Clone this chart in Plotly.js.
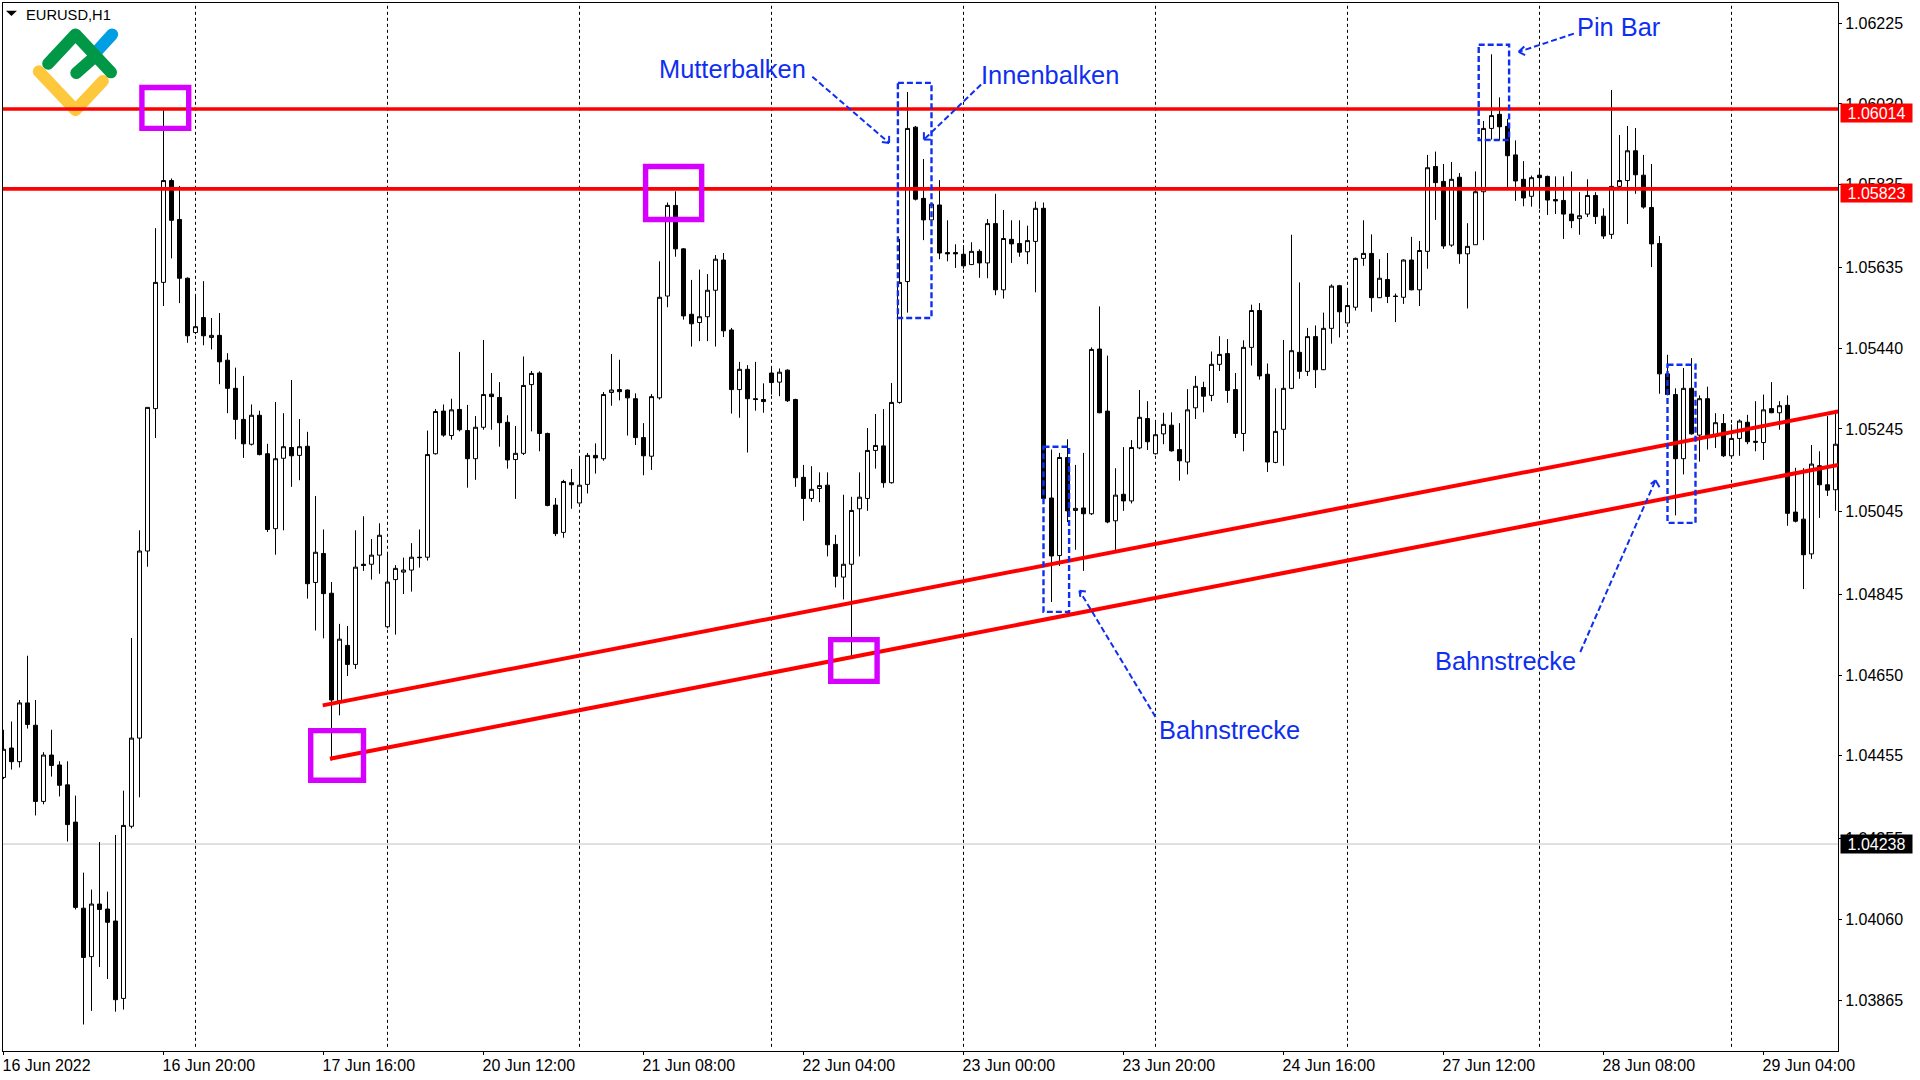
<!DOCTYPE html>
<html><head><meta charset="utf-8">
<script src="https://cdn.plot.ly/plotly-3.0.1.min.js"></script>
<style>html,body{margin:0;padding:0;background:#fff}#c{width:1920px;height:1080px}</style>
</head><body><div id="c"></div>
<script>
const opens=[
1.04403,1.04474,1.04441,1.04583,1.04529,1.04345,1.04457,1.04433,1.04385,1.04295,
1.04087,1.03970,1.04097,1.04085,1.04056,1.03869,1.04285,1.04498,1.04950,1.05294,
1.05599,1.05845,1.05751,1.05609,1.05478,1.05514,1.05466,1.05471,1.05411,1.05343,
1.05268,1.05208,1.05278,1.05185,1.05004,1.05174,1.05200,1.05181,1.05203,1.04874,
1.04944,1.04848,1.04588,1.04722,1.04676,1.04918,1.04918,1.04940,1.04767,1.04881,
1.04899,1.04904,1.04935,1.04935,1.05185,1.05288,1.05229,1.05292,1.05241,1.05173,
1.05249,1.05329,1.05321,1.05261,1.05171,1.05186,1.05352,1.05380,1.05234,1.05061,
1.04995,1.05115,1.05066,1.05111,1.05181,1.05173,1.05333,1.05340,1.05339,1.05318,
1.05224,1.05179,1.05320,1.05566,1.05785,1.05680,1.05522,1.05502,1.05516,1.05580,
1.05653,1.05484,1.05340,1.05389,1.05318,1.05316,1.05380,1.05358,1.05387,1.05316,
1.05128,1.05077,1.05101,1.05109,1.04966,1.04887,1.04918,1.05052,1.05077,1.05193,
1.05204,1.05115,1.05309,1.05601,1.05974,1.05802,1.05750,1.05786,1.05671,1.05671,
1.05667,1.05642,1.05674,1.05646,1.05741,1.05581,1.05703,1.05693,1.05673,1.05698,
1.05778,1.05078,1.04939,1.05176,1.05048,1.05054,1.05040,1.05438,1.05288,1.05023,
1.05087,1.05071,1.05199,1.05270,1.05185,1.05233,1.05254,1.05195,1.05165,1.05296,
1.05345,1.05326,1.05401,1.05427,1.05340,1.05234,1.05442,1.05531,1.05377,1.05164,
1.05244,1.05343,1.05430,1.05384,1.05468,1.05388,1.05488,1.05591,1.05501,1.05539,
1.05657,1.05669,1.05562,1.05606,1.05566,1.05563,1.05653,1.05581,1.05674,1.05879,
1.05843,1.05689,1.05853,1.05668,1.05690,1.05818,1.05971,1.06005,1.05976,1.05907,
1.05848,1.05807,1.05858,1.05855,1.05799,1.05797,1.05764,1.05753,1.05764,1.05809,
1.05759,1.05715,1.05831,1.05845,1.05917,1.05858,1.05780,1.05693,1.05378,1.05328,
1.05173,1.05343,1.05230,1.05318,1.05228,1.05258,1.05180,1.05222,1.05261,1.05215,
1.05212,1.05294,1.05284,1.05302,1.05044,1.05027,1.04943,1.05156,1.05110,1.05098];
const highs=[
1.04518,1.04538,1.04590,1.04697,1.04590,1.04464,1.04518,1.04442,1.04442,1.04359,
1.04173,1.04132,1.04247,1.04127,1.04264,1.04371,1.04740,1.05000,1.05297,1.05730,
1.06015,1.05850,1.05832,1.05611,1.05567,1.05602,1.05513,1.05525,1.05428,1.05393,
1.05373,1.05304,1.05289,1.05209,1.05310,1.05283,1.05363,1.05269,1.05238,1.05083,
1.05002,1.04875,1.04774,1.04769,1.05000,1.05034,1.04979,1.05017,1.04948,1.04916,
1.04934,1.04969,1.05002,1.05241,1.05293,1.05304,1.05318,1.05431,1.05303,1.05276,
1.05460,1.05380,1.05358,1.05278,1.05252,1.05420,1.05385,1.05384,1.05236,1.05078,
1.05122,1.05148,1.05176,1.05187,1.05210,1.05334,1.05426,1.05412,1.05340,1.05331,
1.05259,1.05329,1.05650,1.05792,1.05819,1.05682,1.05605,1.05630,1.05619,1.05665,
1.05670,1.05489,1.05407,1.05399,1.05407,1.05355,1.05394,1.05391,1.05389,1.05318,
1.05158,1.05155,1.05140,1.05140,1.04989,1.05086,1.05081,1.05140,1.05247,1.05281,
1.05293,1.05356,1.05704,1.06059,1.05977,1.05897,1.05790,1.05846,1.05749,1.05691,
1.05689,1.05696,1.05679,1.05752,1.05813,1.05774,1.05749,1.05749,1.05736,1.05794,
1.05792,1.05195,1.05187,1.05220,1.05158,1.05187,1.05442,1.05541,1.05422,1.05150,
1.05201,1.05218,1.05339,1.05312,1.05266,1.05284,1.05285,1.05259,1.05341,1.05373,
1.05359,1.05432,1.05469,1.05462,1.05380,1.05459,1.05545,1.05549,1.05403,1.05343,
1.05460,1.05714,1.05599,1.05489,1.05495,1.05526,1.05594,1.05593,1.05581,1.05659,
1.05749,1.05715,1.05655,1.05670,1.05572,1.05655,1.05709,1.05699,1.05907,1.05915,
1.05885,1.05890,1.05863,1.05742,1.05867,1.05989,1.06150,1.06046,1.05994,1.05942,
1.05892,1.05857,1.05873,1.05857,1.05855,1.05855,1.05867,1.05817,1.05848,1.05817,
1.05778,1.06064,1.05955,1.05977,1.05972,1.05907,1.05885,1.05711,1.05424,1.05343,
1.05392,1.05416,1.05326,1.05347,1.05283,1.05281,1.05256,1.05268,1.05279,1.05312,
1.05328,1.05358,1.05312,1.05326,1.05151,1.05150,1.05206,1.05191,1.05276,1.05291];
const lows=[
1.04399,1.04422,1.04427,1.04521,1.04311,1.04338,1.04405,1.04357,1.04248,1.04084,
1.03806,1.03839,1.03945,1.03916,1.03837,1.03842,1.04280,1.04355,1.04912,1.05223,
1.05542,1.05657,1.05549,1.05453,1.05474,1.05447,1.05437,1.05353,1.05283,1.05220,
1.05175,1.05205,1.05181,1.04996,1.04941,1.05000,1.05105,1.05121,1.04835,1.04758,
1.04739,1.04444,1.04553,1.04648,1.04665,1.04902,1.04881,1.04895,1.04763,1.04748,
1.04846,1.04852,1.04910,1.04927,1.05183,1.05226,1.05219,1.05239,1.05103,1.05122,
1.05243,1.05243,1.05202,1.05149,1.05076,1.05182,1.05239,1.05191,1.05058,1.04986,
1.04982,1.05052,1.05065,1.05089,1.05137,1.05168,1.05301,1.05314,1.05229,1.05206,
1.05133,1.05146,1.05316,1.05539,1.05661,1.05509,1.05444,1.05457,1.05457,1.05444,
1.05467,1.05282,1.05272,1.05188,1.05289,1.05284,1.05328,1.05324,1.05310,1.05105,
1.05023,1.05069,1.05068,1.04937,1.04862,1.04833,1.04695,1.04937,1.05047,1.05149,
1.05103,1.05113,1.05306,1.05526,1.05797,1.05701,1.05749,1.05655,1.05650,1.05634,
1.05632,1.05642,1.05610,1.05609,1.05568,1.05560,1.05646,1.05661,1.05643,1.05575,
1.05075,1.04827,1.04914,1.05020,1.04953,1.04902,1.05037,1.05283,1.05017,1.04952,
1.05047,1.05065,1.05196,1.05194,1.05183,1.05208,1.05190,1.05120,1.05135,1.05269,
1.05285,1.05312,1.05385,1.05308,1.05223,1.05191,1.05398,1.05364,1.05141,1.05162,
1.05156,1.05341,1.05366,1.05373,1.05344,1.05387,1.05451,1.05466,1.05500,1.05531,
1.05639,1.05528,1.05561,1.05549,1.05503,1.05547,1.05580,1.05542,1.05632,1.05750,
1.05680,1.05685,1.05644,1.05536,1.05690,1.05701,1.05944,1.05942,1.05829,1.05796,
1.05783,1.05782,1.05777,1.05762,1.05764,1.05704,1.05730,1.05714,1.05757,1.05740,
1.05704,1.05704,1.05828,1.05740,1.05813,1.05777,1.05636,1.05330,1.05326,1.05036,
1.05135,1.05231,1.05166,1.05195,1.05199,1.05177,1.05179,1.05180,1.05208,1.05191,
1.05170,1.05283,1.05243,1.05011,1.05019,1.04858,1.04931,1.05030,1.05083,1.05047];
const closes=[
1.04471,1.04441,1.04583,1.04531,1.04345,1.04457,1.04432,1.04384,1.04289,1.04089,
1.03968,1.04097,1.04084,1.04053,1.03866,1.04287,1.04498,1.04950,1.05297,1.05599,
1.05845,1.05749,1.05609,1.05470,1.05492,1.05470,1.05471,1.05407,1.05343,1.05268,
1.05209,1.05278,1.05183,1.05002,1.05173,1.05202,1.05180,1.05202,1.04871,1.04947,
1.04847,1.04590,1.04737,1.04676,1.04911,1.04915,1.04940,1.04988,1.04875,1.04908,
1.04904,1.04935,1.04934,1.05183,1.05287,1.05230,1.05291,1.05243,1.05173,1.05249,
1.05328,1.05323,1.05260,1.05170,1.05186,1.05350,1.05379,1.05234,1.05060,1.04992,
1.05118,1.05110,1.05109,1.05181,1.05175,1.05328,1.05339,1.05335,1.05320,1.05224,
1.05180,1.05323,1.05563,1.05785,1.05680,1.05518,1.05499,1.05516,1.05580,1.05655,
1.05482,1.05340,1.05389,1.05318,1.05316,1.05311,1.05357,1.05382,1.05313,1.05127,
1.05077,1.05099,1.05108,1.04965,1.04889,1.04918,1.05048,1.05080,1.05193,1.05205,
1.05115,1.05309,1.05599,1.05971,1.05800,1.05750,1.05788,1.05670,1.05668,1.05668,
1.05639,1.05674,1.05646,1.05741,1.05581,1.05705,1.05692,1.05672,1.05700,1.05778,
1.05077,1.04938,1.05176,1.05047,1.05053,1.05040,1.05437,1.05284,1.05020,1.05085,
1.05071,1.05200,1.05273,1.05214,1.05231,1.05256,1.05192,1.05168,1.05291,1.05348,
1.05324,1.05401,1.05425,1.05338,1.05234,1.05442,1.05531,1.05373,1.05165,1.05239,
1.05343,1.05434,1.05384,1.05468,1.05388,1.05488,1.05590,1.05528,1.05543,1.05657,
1.05669,1.05562,1.05609,1.05565,1.05565,1.05653,1.05581,1.05676,1.05876,1.05840,
1.05687,1.05848,1.05668,1.05686,1.05818,1.05971,1.06002,1.05975,1.05905,1.05844,
1.05803,1.05852,1.05852,1.05798,1.05796,1.05764,1.05748,1.05760,1.05809,1.05758,
1.05711,1.05831,1.05845,1.05917,1.05859,1.05781,1.05692,1.05378,1.05328,1.05173,
1.05343,1.05233,1.05318,1.05224,1.05260,1.05180,1.05222,1.05264,1.05214,1.05213,
1.05291,1.05284,1.05301,1.05041,1.05022,1.04941,1.05160,1.05110,1.05097,1.05208];
const barIndex=opens.map((_,i)=>i);

const timeTickBars=[0,20,40,60,80,100,120,140,160,180,200,220];
const timeTickLabels=["16 Jun 2022","16 Jun 20:00","17 Jun 16:00","20 Jun 12:00","21 Jun 08:00","22 Jun 04:00","23 Jun 00:00","23 Jun 20:00","24 Jun 16:00","27 Jun 12:00","28 Jun 08:00","29 Jun 04:00"];
const dayGridBars=[24,48,72,96,120,144,168,192,216];
const priceTicks=[1.06225,1.06030,1.05835,1.05635,1.05440,1.05245,1.05045,1.04845,1.04650,1.04455,1.04255,1.04060,1.03865];
const priceTickLabels=["1.06225","1.06030","1.05835","1.05635","1.05440","1.05245","1.05045","1.04845","1.04650","1.04455","1.04255","1.04060","1.03865"];

const resistanceLevels=[1.06018,1.05825];
const resistanceLabels=["1.06014","1.05823"];
const resistanceLabelY=[1.06008,1.05816];
const bidLevel=1.04242, bidLabel="1.04238";
// trend lines: [bar, price, bar, price]
const trendLines=[[39.9,1.04577,229.34,1.05287],[40.8,1.04448,229.34,1.05158]];
// highlighted extremes: [bar0, bar1, priceTop, priceBottom]
const magentaBoxes=[[17.3,23.15,1.06070,1.05971],[80.26,87.27,1.05879,1.05751],[103.4,109.2,1.04736,1.04635],[38.4,45.0,1.04516,1.04396]];
const blueBoxes=[[111.8,116,1.06081,1.05513],[130,133.2,1.05202,1.04803],[184.4,188.2,1.06173,1.05943],[208,211.5,1.05400,1.05018]];
// arrows: [startBar,startPrice,tipBar,tipPrice,arm1Bar,arm1Price,arm2Bar,arm2Price]
const blueArrows=[
[101.1,1.06096,110.7,1.05936,110.7,1.05953,109.8,1.05938],
[122.2,1.06077,115.05,1.05944,115.05,1.05962,115.9,1.05944],
[196.3,1.06200,189.4,1.06156,190.1,1.06169,190.2,1.06148],
[144.0,1.04549,134.5,1.04854,135.3,1.04852,134.6,1.04839],
[197.1,1.04706,206.5,1.05121,205.9,1.05112,207.0,1.05104]];
const noteTexts=["Mutterbalken","Innenbalken","Pin Bar","Bahnstrecke","Bahnstrecke"];
const noteBars=[81.85,122.05,196.55,144.25,178.85];
const notePrices=[1.06115,1.06101,1.06217,1.04517,1.04685];

const BLUE='#0f2ff0', FONT='"Liberation Sans", Arial, sans-serif';
const shapes=[];
dayGridBars.forEach(b=>shapes.push({type:'line',layer:'below',xref:'x',yref:'paper',x0:b,x1:b,y0:0.004,y1:1,line:{color:'#000',width:1,dash:'3px,3px'}}));
shapes.push({type:'line',layer:'below',xref:'paper',yref:'y',x0:0,x1:1,y0:bidLevel,y1:bidLevel,line:{color:'#c0c0c0',width:1}});
resistanceLevels.forEach(v=>shapes.push({type:'line',xref:'paper',yref:'y',x0:0,x1:1,y0:v,y1:v,line:{color:'#ff0000',width:3.6}}));
trendLines.forEach(t=>shapes.push({type:'line',xref:'x',yref:'y',x0:t[0],y0:t[1],x1:t[2],y1:t[3],line:{color:'#ff0000',width:4}}));
magentaBoxes.forEach(b=>shapes.push({type:'rect',xref:'x',yref:'y',x0:b[0],x1:b[1],y0:b[2],y1:b[3],line:{color:'#d500ff',width:5.4}}));
blueBoxes.forEach(b=>shapes.push({type:'rect',xref:'x',yref:'y',x0:b[0],x1:b[1],y0:b[2],y1:b[3],line:{color:BLUE,width:2.4,dash:'6px,3px'}}));
blueArrows.forEach(a=>{
  shapes.push({type:'line',xref:'x',yref:'y',x0:a[0],y0:a[1],x1:a[2],y1:a[3],line:{color:BLUE,width:2,dash:'6px,3px'}});
  shapes.push({type:'line',xref:'x',yref:'y',x0:a[2],y0:a[3],x1:a[4],y1:a[5],line:{color:BLUE,width:2}});
  shapes.push({type:'line',xref:'x',yref:'y',x0:a[2],y0:a[3],x1:a[6],y1:a[7],line:{color:BLUE,width:2}});
});
// small symbol menu triangle
shapes.push({type:'path',xref:'paper',yref:'paper',path:'M 0.0016,0.9925 L 0.0076,0.9925 L 0.0046,0.9877 Z',fillcolor:'#000',line:{width:0}});

const annotations=[];
noteTexts.forEach((t,i)=>annotations.push({xref:'x',yref:'y',x:noteBars[i],y:notePrices[i],text:t,showarrow:false,xanchor:'left',yanchor:'middle',borderpad:0,font:{family:FONT,size:25.4,color:BLUE}}));
annotations.push({xref:'paper',yref:'paper',x:0.0122,y:0.9885,text:'EURUSD,H1',showarrow:false,xanchor:'left',yanchor:'middle',borderpad:0,font:{family:FONT,size:14.7,color:'#000'}});
resistanceLabels.forEach((t,i)=>annotations.push({xref:'paper',yref:'y',x:1,xshift:2,y:resistanceLabelY[i],text:t,showarrow:false,xanchor:'left',yanchor:'middle',width:71,height:18,borderpad:0,bgcolor:'#ff0000',align:'center',font:{family:FONT,size:16,color:'#fff'}}));
annotations.push({xref:'paper',yref:'y',x:1,xshift:2,y:bidLevel,text:bidLabel,showarrow:false,xanchor:'left',yanchor:'middle',width:71,height:18,borderpad:0,bgcolor:'#000',align:'center',font:{family:FONT,size:16,color:'#fff'}});

const logoSvg='<svg xmlns="http://www.w3.org/2000/svg" width="100" height="100" viewBox="0 0 100 100"><g fill="none" stroke-width="12" stroke-linecap="round" stroke-linejoin="round"><path d="M82.2 10.4L68 26" stroke="#009fe3"/><path d="M8.8 47.3L45.5 86.2L72.9 57" stroke="#fec83c"/><path d="M18.2 39.7L45.5 10.4L81 48.3M46.3 49L64.7 32.8" stroke="#009846"/></g></svg>';
const images=[{source:'data:image/svg+xml;base64,'+btoa(logoSvg),xref:'paper',yref:'paper',x:(30-3)/1835,y:1-(24-3)/1048,sizex:100/1835,sizey:100/1048,xanchor:'left',yanchor:'top',sizing:'stretch',layer:'above'}];

const trace={type:'candlestick',x:barIndex,open:opens,high:highs,low:lows,close:closes,
  increasing:{line:{color:'#000',width:1},fillcolor:'#fff'},
  decreasing:{line:{color:'#000',width:1},fillcolor:'#000'},
  hoverinfo:'skip',showlegend:false};

const layout={width:1920,height:1080,paper_bgcolor:'#fff',plot_bgcolor:'#fff',showlegend:false,
  margin:{l:3,r:82,t:3,b:29,pad:0},boxgap:0.5,boxgroupgap:0,
  font:{family:FONT,size:16,color:'#000'},
  xaxis:{type:'linear',range:[-0.0625,229.3125],rangeslider:{visible:false},tickmode:'array',tickvals:timeTickBars,ticktext:timeTickLabels,
    ticks:'outside',ticklen:3,tickwidth:1,tickcolor:'#000',ticklabelposition:'outside right',ticklabelshift:-2,showgrid:false,zeroline:false,
    showline:true,linecolor:'#000',linewidth:1,mirror:true,tickangle:0,tickfont:{family:FONT,size:16,color:'#000'}},
  yaxis:{type:'linear',side:'right',range:[1.03742,1.06274],tickmode:'array',tickvals:priceTicks,ticktext:priceTickLabels,
    ticks:'outside',ticklen:3,tickwidth:1,tickcolor:'#000',showgrid:false,zeroline:false,
    showline:true,linecolor:'#000',linewidth:1,mirror:true,tickfont:{family:FONT,size:16,color:'#000'}},
  shapes,annotations,images};
Plotly.newPlot('c',[trace],layout,{staticPlot:true,displayModeBar:false});
</script></body></html>
